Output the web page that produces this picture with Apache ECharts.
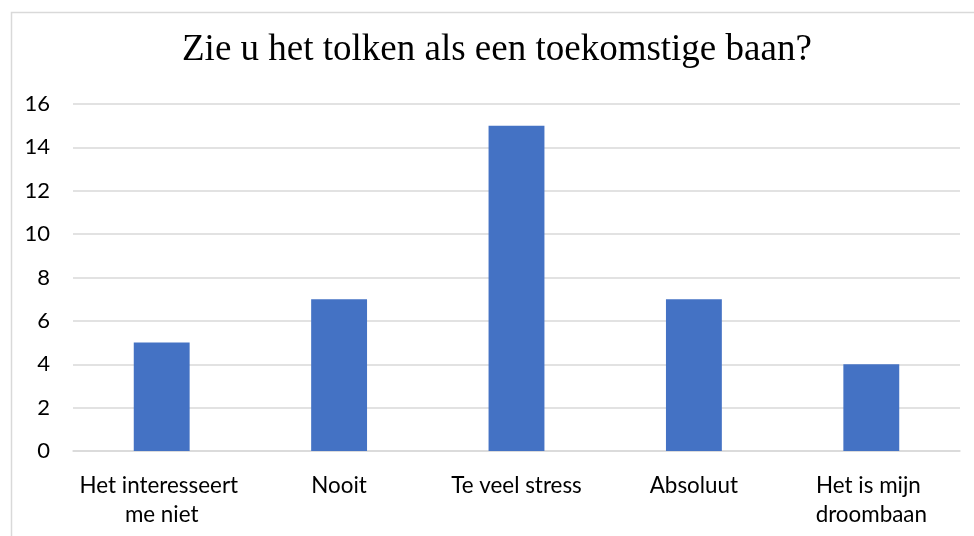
<!DOCTYPE html>
<html>
<head>
<meta charset="utf-8">
<script src="https://cdn.jsdelivr.net/npm/echarts@6/dist/echarts.min.js"></script>
<style>html,body{margin:0;padding:0;background:#fff}#c{width:974px;height:536px}</style>
</head>
<body>
<div id="c"></div>
<script>
const titleText = 'Zie u het tolken als een toekomstige baan?';
const categories = ['Het interesseert me niet', 'Nooit', 'Te veel stress', 'Absoluut', 'Het is mijn droombaan'];
const values = [5, 7, 15, 7, 4];
const yTicks = [0, 2, 4, 6, 8, 10, 12, 14, 16];

const chart = echarts.init(document.getElementById('c'), null, {renderer: 'canvas'});
chart.setOption({
  animation: false,
  backgroundColor: '#fff',
  graphic: [{
    type: 'rect', left: 9, top: 10, silent: true,
    shape: {width: 1000, height: 600},
    style: {fill: 'none', stroke: '#d9d9d9', lineWidth: 1.5}
  }],
  title: {
    text: titleText, left: 177, top: 27,
    textStyle: {fontFamily: 'Liberation Serif', fontWeight: 'normal', fontSize: 37, color: '#000'}
  },
  grid: {left: 73, right: 14, top: 104, bottom: 85, containLabel: false},
  xAxis: {
    type: 'category', data: categories,
    axisLine: {lineStyle: {color: '#d9d9d9', width: 1.5}},
    axisTick: {show: false},
    axisLabel: {
      interval: 0, margin: 20, width: 172, overflow: 'break',
      fontFamily: 'Lato', fontSize: 22.4, lineHeight: 29, color: '#000'
    }
  },
  yAxis: {
    type: 'value', min: yTicks[0], max: yTicks[yTicks.length - 1], interval: 2,
    axisLine: {show: false}, axisTick: {show: false},
    splitLine: {lineStyle: {color: '#d9d9d9', width: 1.5}},
    axisLabel: {margin: 23, fontFamily: 'Lato', fontSize: 22, color: '#000'}
  },
  series: [{
    type: 'bar', data: values, barWidth: '31.5%',
    itemStyle: {color: '#4472C4'}
  }]
});
</script>
</body>
</html>
